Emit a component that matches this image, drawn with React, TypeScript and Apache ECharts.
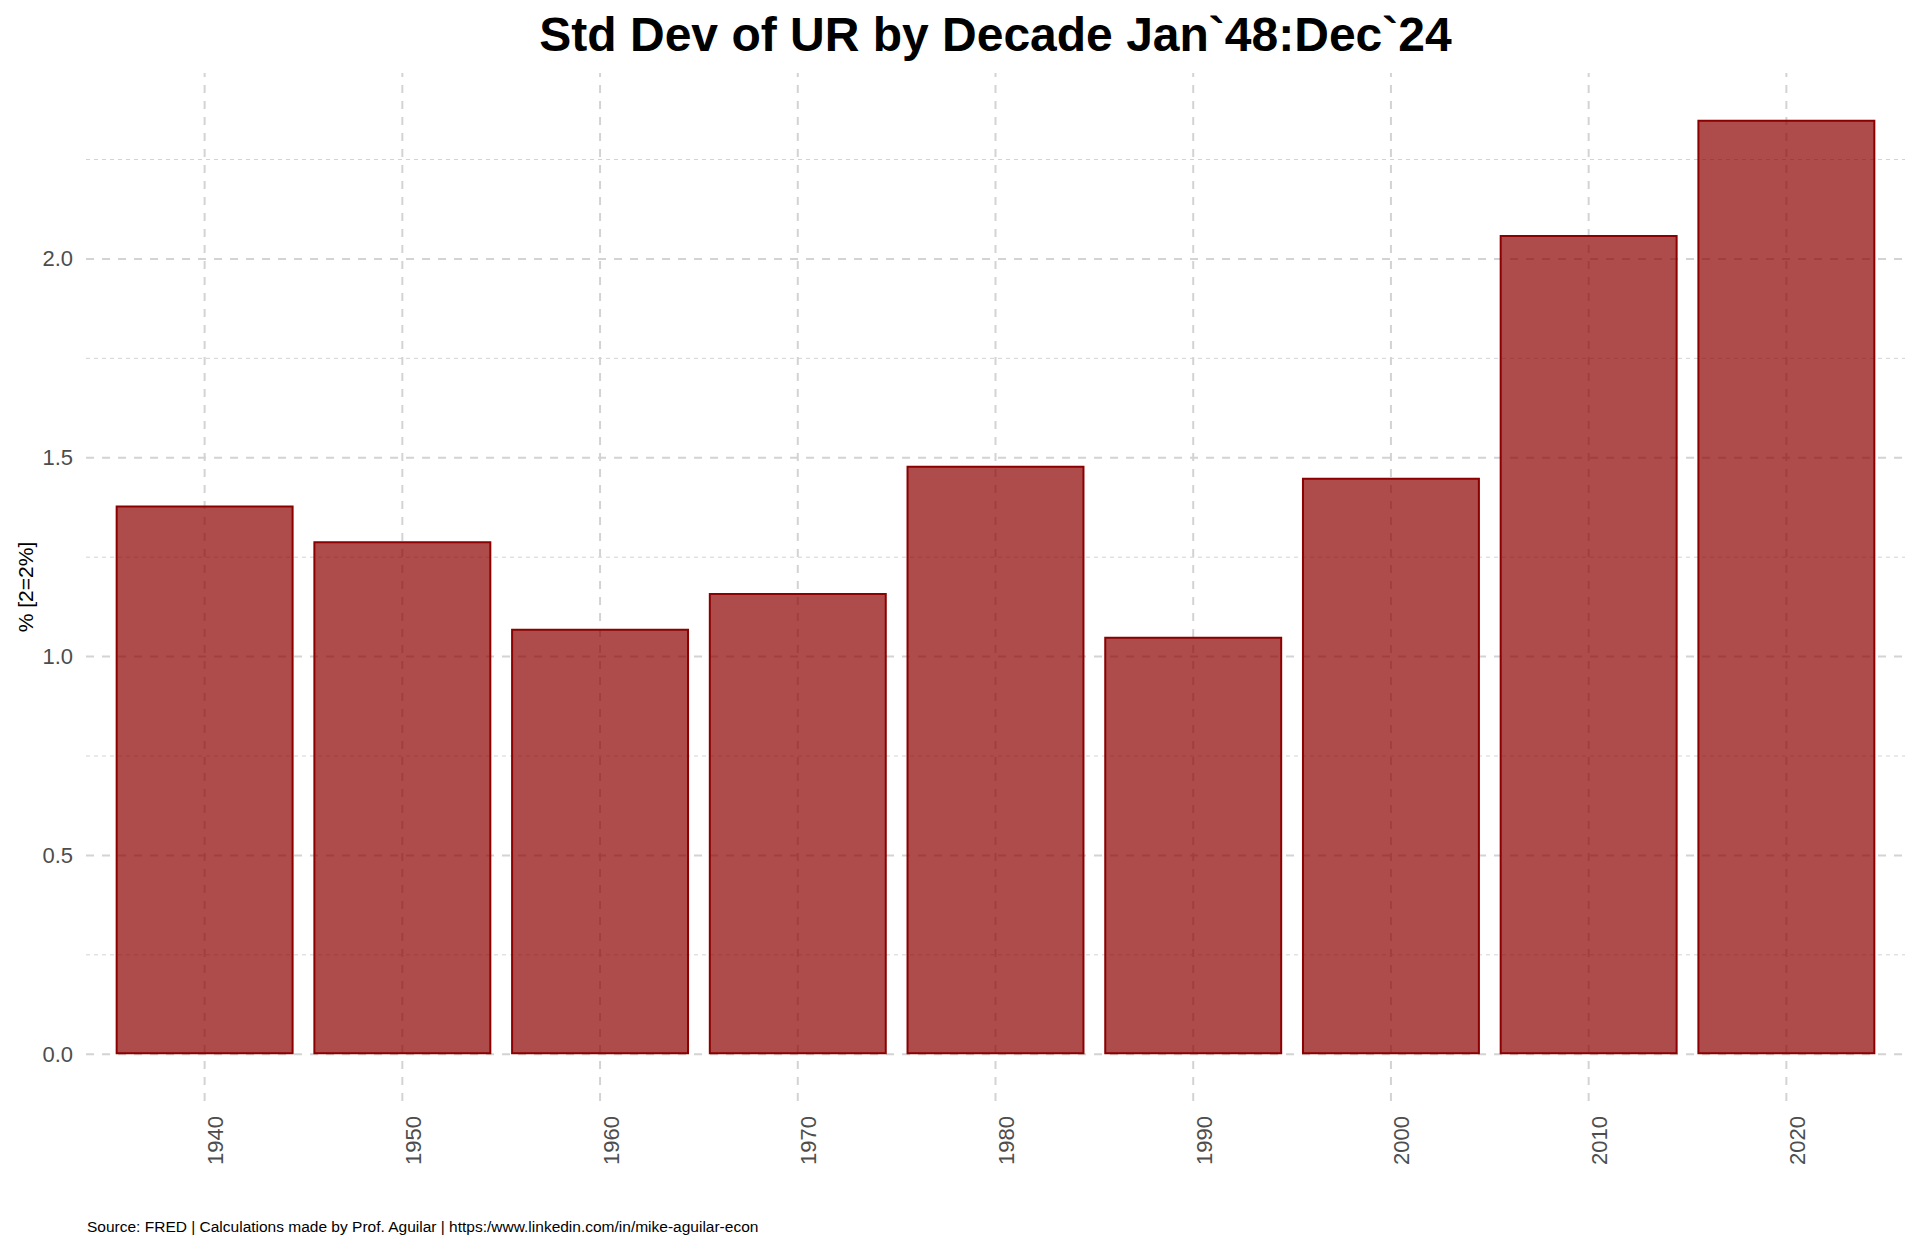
import React, { useEffect, useRef } from "react";
import * as echarts from "echarts";

// ---- data ----
const decades = ["1940", "1950", "1960", "1970", "1980", "1990", "2000", "2010", "2020"];
const stdDev = [1.38, 1.29, 1.07, 1.16, 1.48, 1.05, 1.45, 2.06, 2.35];
const yMajorTicks = [0, 0.5, 1.0, 1.5, 2.0];
const yMinorTicks = [0.25, 0.75, 1.25, 1.75, 2.25];

const titleText = "Std Dev of UR by Decade Jan`48:Dec`24";
const yTitle = "% [2=2%]";
const captionText =
  "Source: FRED | Calculations made by Prof. Aguilar | https:/www.linkedin.com/in/mike-aguilar-econ";

const W = 1920;
const H = 1248;
const FONT = '"Liberation Sans", Arial, Helvetica, sans-serif';

export default function App() {
  const ref = useRef<HTMLDivElement>(null);

  useEffect(() => {
    if (!ref.current) return;
    const chart = echarts.init(ref.current, undefined, { renderer: "svg" });

    const gridLeft = 86;
    const gridRight = 15;
    const gridTop = 73;
    const gridBottom = 147;

    // ggplot-style expansion
    const dataMax = Math.max(...stdDev);
    const pad = dataMax * 0.05;
    const yMin = -pad;
    const yMax = dataMax + pad;
    const xMin = -0.6;
    const xMax = decades.length - 1 + 0.6;
    const plotW = W - gridLeft - gridRight;
    const barWidth = (0.9 * plotW) / (xMax - xMin);

    const hGrid = [
      ...yMinorTicks.map((v) => ({ value: [v, 0] })),
      ...yMajorTicks.map((v) => ({ value: [v, 1] })),
    ];
    const vGrid = decades.map((_, i) => ({ value: [i, 0] }));

    chart.setOption({
      animation: false,
      backgroundColor: "#ffffff",
      grid: {
        left: gridLeft,
        right: gridRight,
        top: gridTop,
        bottom: gridBottom,
        containLabel: false,
        outerBoundsMode: "none",
      },
      xAxis: {
        type: "value",
        min: xMin,
        max: xMax,
        axisLine: { show: false, onZero: false },
        axisTick: { show: false },
        splitLine: { show: false },
        axisLabel: {
          customValues: decades.map((_, i) => i),
          formatter: (v: number) => decades[Math.round(v)] ?? "",
          rotate: 90,
          margin: 15,
          verticalAlign: "top",
          fontSize: 22,
          fontFamily: FONT,
          color: "#4D4D4D",
        },
      },
      yAxis: {
        type: "value",
        min: yMin,
        max: yMax,
        axisLine: { show: false, onZero: false },
        axisTick: { show: false },
        splitLine: { show: false },
        axisLabel: {
          customValues: yMajorTicks,
          formatter: (v: number) => v.toFixed(1),
          margin: 13,
          fontSize: 22,
          fontFamily: FONT,
          color: "#4D4D4D",
        },
      },
      series: [
        {
          type: "custom",
          name: "hgrid",
          silent: true,
          z: 1,
          data: hGrid,
          renderItem: (params: any, api: any) => {
            const v = api.value(0);
            const major = api.value(1) === 1;
            const cs = params.coordSys;
            const y = api.coord([xMin, v])[1];
            return {
              type: "line",
              shape: { x1: cs.x, y1: y, x2: cs.x + cs.width, y2: y },
              style: {
                stroke: "#D3D3D3",
                lineWidth: major ? 2 : 1,
                lineDash: major ? [8, 8] : [4, 4],
              },
            };
          },
        },
        {
          type: "custom",
          name: "vgrid",
          silent: true,
          z: 1,
          data: vGrid,
          renderItem: (params: any, api: any) => {
            const i = api.value(0);
            const cs = params.coordSys;
            const x = api.coord([i, 0])[0];
            return {
              type: "line",
              shape: { x1: x, y1: cs.y + cs.height, x2: x, y2: cs.y },
              style: {
                stroke: "#D3D3D3",
                lineWidth: 2,
                lineDash: [8, 8],
              },
            };
          },
        },
        {
          type: "bar",
          name: "Std Dev",
          z: 2,
          barWidth: barWidth,
          data: stdDev.map((v, i) => [i, v]),
          itemStyle: {
            color: "rgba(139,0,0,0.7)",
            borderColor: "#8B0000",
            borderWidth: 2,
          },
        },
      ],
      graphic: [
        {
          type: "text",
          x: gridLeft + plotW / 2,
          y: 34,
          silent: true,
          style: {
            text: titleText,
            fill: "#000000",
            font: `bold 48px ${FONT}`,
            textAlign: "center",
            textVerticalAlign: "middle",
          },
        },
        {
          type: "text",
          x: 25,
          y: gridTop + (H - gridTop - gridBottom) / 2,
          rotation: Math.PI / 2,
          silent: true,
          style: {
            text: yTitle,
            fill: "#000000",
            font: `21px ${FONT}`,
            textAlign: "center",
            textVerticalAlign: "middle",
          },
        },
        {
          type: "text",
          x: 87,
          y: 1226,
          silent: true,
          style: {
            text: captionText,
            fill: "#000000",
            font: `15.5px ${FONT}`,
            textAlign: "left",
            textVerticalAlign: "middle",
          },
        },
      ],
    });

    return () => {
      chart.dispose();
    };
  }, []);

  return (
    <div
      ref={ref}
      style={{ position: "fixed", left: 0, top: 0, width: W, height: H, background: "#fff" }}
    />
  );
}
